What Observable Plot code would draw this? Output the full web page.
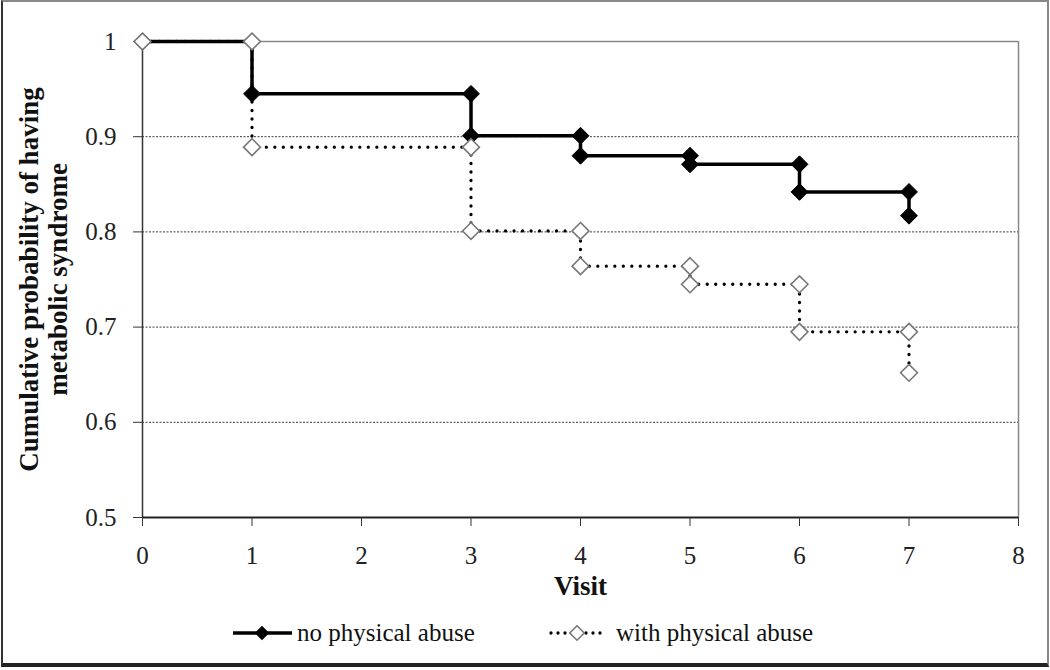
<!DOCTYPE html>
<html>
<head>
<meta charset="utf-8">
<script src="https://cdn.jsdelivr.net/npm/d3@7"></script>
<script src="https://cdn.jsdelivr.net/npm/@observablehq/plot@0.6"></script>
<style>
  html, body { margin: 0; padding: 0; background: #fff; }
  #wrap { position: relative; width: 1050px; height: 670px; overflow: hidden; background: #fff; font-family: "Liberation Serif", "Times New Roman", serif; }
  #frame { position: absolute; left: 1px; top: 0px; width: 1048px; height: 667px; box-sizing: border-box;
           border-left: 2px solid #333; border-top: 2px solid #888; border-right: 2px solid #888; border-bottom: 4px solid #222; pointer-events: none; }
  #chart { position: absolute; left: 0; top: 0; }
  #legend { position: absolute; left: 0; top: 605px; }
</style>
</head>
<body>
<div id="wrap">
  <div id="chart"></div>
  <div id="legend"></div>
  <div id="frame"></div>
</div>
<script>
// ---- data ----
const seriesNames = ["no physical abuse", "with physical abuse"];
const noAbuseVisit = [0, 1, 1, 3, 3, 4, 4, 5, 5, 6, 6, 7, 7];
const noAbuseProb  = [1, 1, 0.945, 0.945, 0.901, 0.901, 0.880, 0.880, 0.871, 0.871, 0.842, 0.842, 0.817];
const withAbuseVisit = [0, 1, 1, 3, 3, 4, 4, 5, 5, 6, 6, 7, 7];
const withAbuseProb  = [1, 1, 0.889, 0.889, 0.801, 0.801, 0.764, 0.764, 0.745, 0.745, 0.695, 0.695, 0.652];
const xTicks = [0, 1, 2, 3, 4, 5, 6, 7, 8];
const yTicks = [0.5, 0.6, 0.7, 0.8, 0.9, 1];
const gridY = [0.6, 0.7, 0.8, 0.9];
const xLabel = "Visit";
const yLabel = "Cumulative probability of having\nmetabolic syndrome";

const noAbuse = noAbuseVisit.map((v, i) => ({visit: v, prob: noAbuseProb[i]}));
const withAbuse = withAbuseVisit.map((v, i) => ({visit: v, prob: withAbuseProb[i]}));

const plot = Plot.plot({
  width: 1050,
  height: 605,
  marginLeft: 142,
  marginRight: 32,
  marginTop: 41,
  marginBottom: 88,
  style: { fontFamily: "'Liberation Serif', 'Times New Roman', serif", fontSize: "25px", background: "transparent", color: "#222" },
  x: { domain: [0, 8] },
  y: { domain: [0.5, 1] },
  marks: [
    Plot.ruleY(gridY, { stroke: "#222", strokeWidth: 0.9, strokeDasharray: "2,1.5" }),
    Plot.ruleY([1], { stroke: "#888", strokeWidth: 1.5 }),
    Plot.ruleX([8], { stroke: "#888", strokeWidth: 1.5 }),
    Plot.ruleX([0], { stroke: "#333", strokeWidth: 1.5 }),
    Plot.ruleY([0.5], { stroke: "#222", strokeWidth: 2 }),
    Plot.axisY({ ticks: yTicks, tickSize: 9, tickPadding: 17, tickFormat: d => d === 1 ? "1" : d.toFixed(1), label: null, stroke: "#333", fill: "#222" }),
    Plot.axisX({ ticks: xTicks, tickSize: 9, tickPadding: 20, tickFormat: d => String(d), label: null, stroke: "#333", fill: "#222" }),
    Plot.line(noAbuse, { x: "visit", y: "prob", stroke: "#000", strokeWidth: 3.5 }),
    Plot.line(withAbuse, { x: "visit", y: "prob", stroke: "#000", strokeWidth: 3.3, strokeDasharray: "0,8.5", strokeLinecap: "round" }),
    Plot.dot(noAbuse, { x: "visit", y: "prob", symbol: "diamond2", r: 7.6, fill: "#000", stroke: "#000", strokeWidth: 1 }),
    Plot.dot(withAbuse, { x: "visit", y: "prob", symbol: "diamond2", r: 7.6, fill: "#fff", stroke: "#777", strokeWidth: 1.6 }),
    Plot.text([xLabel], { text: d => d, frameAnchor: "bottom", dy: 77, fontWeight: "bold", fontSize: 27, fill: "#111" }),
    Plot.text([yLabel], { text: d => d, frameAnchor: "left", textAnchor: "middle", lineAnchor: "middle", dx: -99, rotate: -90, fontWeight: "bold", fontSize: 27, lineHeight: 1.06, fill: "#111" })
  ]
});
document.getElementById("chart").appendChild(plot);

// ---- legend ----
const lg = d3.select("#legend").append("svg").attr("width", 1050).attr("height", 60)
  .style("font-family", "'Liberation Serif', 'Times New Roman', serif");
const cy = 28;
const diamond = d3.symbol().type(d3.symbolDiamond2).size(Math.PI * 6.5 * 6.5);
// series 1
lg.append("line").attr("x1", 233).attr("x2", 292).attr("y1", cy).attr("y2", cy).attr("stroke", "#000").attr("stroke-width", 3.5);
lg.append("path").attr("d", diamond).attr("transform", `translate(262,${cy})`).attr("fill", "#000");
lg.append("text").attr("x", 297).attr("y", cy).attr("dy", "0.32em").attr("font-size", 25).attr("fill", "#111").text(seriesNames[0]);
// series 2
lg.append("line").attr("x1", 551).attr("x2", 604).attr("y1", cy).attr("y2", cy).attr("stroke", "#000").attr("stroke-width", 3.3)
  .attr("stroke-dasharray", "0,7").attr("stroke-linecap", "round");
lg.append("path").attr("d", diamond).attr("transform", `translate(577,${cy})`).attr("fill", "#fff").attr("stroke", "#777").attr("stroke-width", 1.6);
lg.append("text").attr("x", 616).attr("y", cy).attr("dy", "0.32em").attr("font-size", 25).attr("fill", "#111").text(seriesNames[1]);
</script>
</body>
</html>
